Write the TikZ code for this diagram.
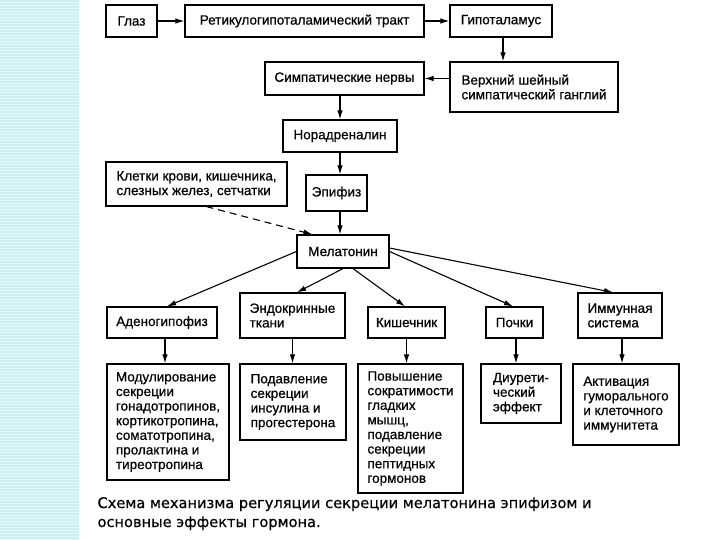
\documentclass[tikz,border=0pt]{standalone}
\usepackage{fontspec}
\setmainfont{Liberation Sans}[FakeBold=0.6]
\newfontfamily\boxfont{Liberation Sans}[FakeBold=0.6]
\newfontfamily\capfont{DejaVu Sans}[FakeBold=0.5]
\usetikzlibrary{arrows.meta,calc}
\definecolor{stripcol}{RGB}{202,238,242}
\begin{document}
\begin{tikzpicture}[x=1pt,y=-1pt,
  box/.style={draw, line width=1.2pt, inner sep=2pt, align=left,
    font=\boxfont\fontsize{13.5}{14.6}\selectfont},
  arr/.style={line width=1.1pt, -{Latex[length=9pt,width=5.5pt]}},
  dasharr/.style={arr, dash pattern=on 7pt off 5pt},
  capt/.style={anchor=base west, font=\capfont\fontsize{14.6}{19}\selectfont}
]
\useasboundingbox (0,0) rectangle (720,540);
\fill[white] (0,0) rectangle (720,540);
\fill[stripcol] (0,0) rectangle (79,540);
\foreach \yy in {2,5,...,539} {\draw[white, line width=0.5pt, opacity=0.5] (0,\yy) -- (79,\yy);}

% top row
\node[box, minimum width=51pt, minimum height=32pt] (glaz) at (131.5,21) {Глаз};
\node[box, minimum width=239pt, minimum height=32pt] (tract) at (304.5,21) {Ретикулогипоталамический тракт};
\node[box, minimum width=102pt, minimum height=32pt] (hypo) at (501,21) {Гипоталамус};
\node[box, minimum width=168pt, minimum height=50pt] (gang) at (534,87) {Верхний шейный\\симпатический ганглий};
\node[box, minimum width=159pt, minimum height=33pt] (nerves) at (344.5,78.5) {Симпатические нервы};
\node[box, minimum width=114pt, minimum height=32pt] (norad) at (340,136) {Норадреналин};
\node[box, minimum width=181pt, minimum height=44pt] (cells) at (196.5,184) {Клетки крови, кишечника,\\слезных желез, сетчатки};
\node[box, minimum width=61pt, minimum height=36pt] (epi) at (336.5,193) {Эпифиз};
\node[box, minimum width=92pt, minimum height=33pt] (mel) at (343,251.5) {Мелатонин};

% targets
\node[box, minimum width=110pt, minimum height=31pt] (adeno) at (162,322.5) {Аденогипофиз};
\node[box, minimum width=105pt, minimum height=45pt] (endo) at (292.5,315.5) {Эндокринные\\ткани};
\node[box, minimum width=77pt, minimum height=31pt] (intest) at (406.5,322.5) {Кишечник};
\node[box, minimum width=57pt, minimum height=31pt] (kidney) at (514.5,322.5) {Почки};
\node[box, minimum width=84pt, minimum height=45pt] (immune) at (620,315.5) {Иммунная\\система};

% effects
\node[box, minimum width=122pt, minimum height=116pt] (modul) at (168,422) {Модулирование\\секреции\\гонадотропинов,\\кортикотропина,\\соматотропина,\\пролактина и\\тиреотропина};
\node[box, minimum width=106pt, minimum height=76pt] (suppr) at (293,402) {Подавление\\секреции\\инсулина и\\прогестерона};
\node[box, minimum width=105pt, minimum height=129pt] (incr) at (410.5,428.5) {Повышение\\сократимости\\гладких\\мышц,\\подавление\\секреции\\пептидных\\гормонов};
\node[box, minimum width=80pt, minimum height=59pt] (diur) at (521,393.5) {Диурети-\\ческий\\эффект};
\node[box, minimum width=106pt, minimum height=81pt] (activ) at (626,404.5) {Активация\\гуморального\\и клеточного\\иммунитета};

% connectors
\draw[arr] (glaz) -- (tract);
\draw[arr] (tract) -- (hypo);
\draw[arr] ([xshift=2pt]hypo.south) -- ([xshift=2pt]hypo.south |- gang.north);
\draw[arr] (nerves.east -| gang.west) -- (nerves.east);
\draw[arr] (norad.north |- nerves.south) -- (norad.north);
\draw[arr] (norad.south) -- (norad.south |- epi.north);
\draw[arr] ([xshift=3.5pt]epi.south) -- ([xshift=3.5pt]epi.south |- mel.north);
\draw[dasharr] ([xshift=10pt]cells.south) -- ([xshift=16pt]mel.north west);

\draw[arr] (mel.west) -- ([xshift=5pt]adeno.north);
\draw[arr] (mel.south) -- ([xshift=4.5pt]endo.north);
\draw[arr] ([xshift=10pt]mel.south) -- ([xshift=-1.5pt]intest.north);
\draw[arr] (mel.east) -- ([xshift=-1.5pt]kidney.north);
\draw[arr] ([yshift=3.5pt]mel.east) -- ([xshift=-7pt]immune.north);

\draw[arr] ([xshift=3pt]adeno.south) -- ([xshift=3pt]adeno.south |- modul.north);
\draw[arr] (endo.south) -- (endo.south |- suppr.north);
\draw[arr] (intest.south) -- (intest.south |- incr.north);
\draw[arr] ([xshift=1.5pt]kidney.south) -- ([xshift=1.5pt]kidney.south |- diur.north);
\draw[arr] ([xshift=2pt]immune.south) -- ([xshift=2pt]immune.south |- activ.north);

% caption
\node[capt] (cap1) at (94,508) {Схема механизма регуляции секреции мелатонина эпифизом и};
\node[capt] (cap2) at (94,527) {основные эффекты гормона.};
\end{tikzpicture}
\end{document}
